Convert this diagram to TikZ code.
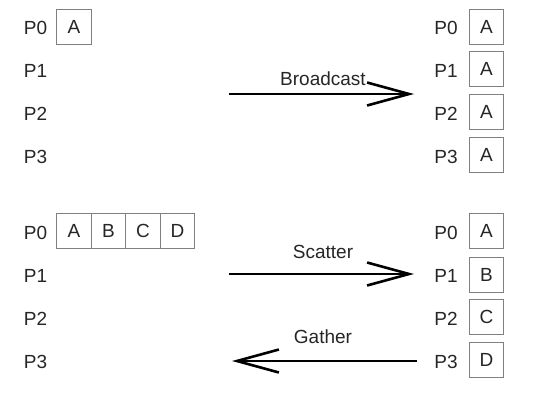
\documentclass[tikz,border=0pt]{standalone}
\usepackage{fontspec}
\setmainfont{Liberation Sans}
\usetikzlibrary{arrows.meta}
\begin{document}
\begin{tikzpicture}[x=1pt,y=-1pt,
  plabel/.style={inner sep=0pt,font=\fontsize{19}{21}\selectfont,text=black!85},
  cell/.style={draw=black!50,line width=0.8pt,minimum width=34.5pt,minimum height=35pt,inner sep=0pt,font=\fontsize{19}{21}\selectfont,text=black!85},
  bigarrow/.style={line width=2.6pt,-{Straight Barb[length=42pt,width=23pt,line width=2.6pt]}},
  alabel/.style={inner sep=0pt,font=\fontsize{19}{21}\selectfont,text=black!85}]
\useasboundingbox[fill=white] (0,0) rectangle (544,402);
% top left
\node[plabel] (tl0) at (35.5,28) {P0};
\node[plabel] (tl1) at (35.5,71) {P1};
\node[plabel] (tl2) at (35.5,114) {P2};
\node[plabel] (tl3) at (35.5,157) {P3};
\node[cell] (tlA) at (74,26.5) {A};
% top right
\node[plabel] (tr0) at (446,28) {P0};
\node[plabel] (tr1) at (446,71) {P1};
\node[plabel] (tr2) at (446,114) {P2};
\node[plabel] (tr3) at (446,157) {P3};
\node[cell] (trA0) at (486.5,26.5) {A};
\node[cell] (trA1) at (486.5,69) {A};
\node[cell] (trA2) at (486.5,111.5) {A};
\node[cell] (trA3) at (486.5,154.5) {A};
% broadcast arrow
\coordinate (bs) at (229,94);
\coordinate (be) at (414,94);
\draw[bigarrow] (bs) -- (be);
\node[alabel] (blab) at (323,79) {Broadcast};
% bottom left
\node[plabel] (bl0) at (35.5,233) {P0};
\node[plabel] (bl1) at (35.5,276) {P1};
\node[plabel] (bl2) at (35.5,319) {P2};
\node[plabel] (bl3) at (35.5,362) {P3};
\node[cell] (blA) at (74,231) {A};
\node[cell] (blB) at (108.5,231) {B};
\node[cell] (blC) at (143,231) {C};
\node[cell] (blD) at (177.5,231) {D};
% bottom right
\node[plabel] (br0) at (446,233) {P0};
\node[plabel] (br1) at (446,276) {P1};
\node[plabel] (br2) at (446,319) {P2};
\node[plabel] (br3) at (446,362) {P3};
\node[cell] (brA) at (486.5,231) {A};
\node[cell] (brB) at (486.5,274.5) {B};
\node[cell] (brC) at (486.5,317) {C};
\node[cell] (brD) at (486.5,360) {D};
% scatter
\coordinate (ss) at (229,274);
\coordinate (se) at (414,274);
\draw[bigarrow] (ss) -- (se);
\node[alabel] (slab) at (323,252) {Scatter};
% gather
\coordinate (gs) at (417,361);
\coordinate (ge) at (232,361);
\draw[bigarrow] (gs) -- (ge);
\node[alabel] (glab) at (323,337) {Gather};
\end{tikzpicture}
\end{document}
